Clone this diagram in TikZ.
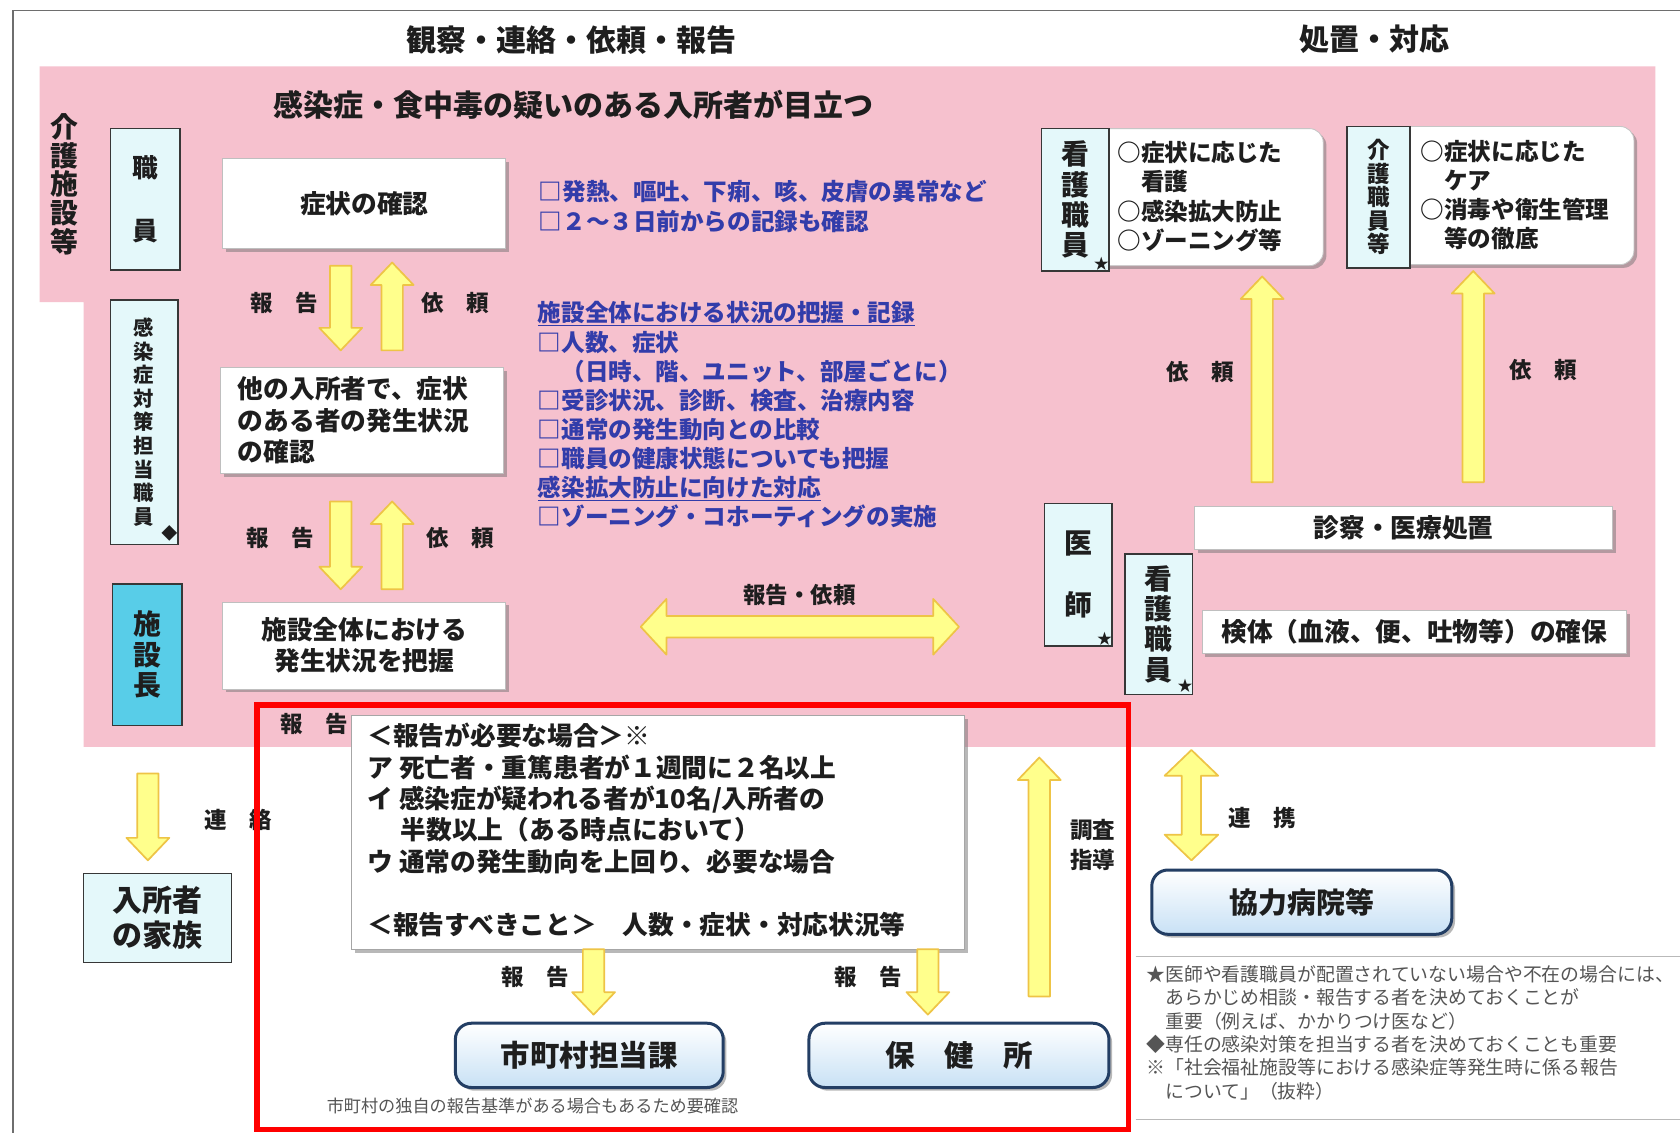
\documentclass[tikz,border=0pt]{standalone}
\usepackage{fontspec}
\setmainfont{Noto Sans CJK JP}
\usetikzlibrary{calc,shadows}
\definecolor{pinkbg}{RGB}{246,193,206}
\definecolor{txt}{RGB}{30,30,30}
\definecolor{tagfill}{RGB}{228,248,250}
\definecolor{tagline}{RGB}{55,55,55}
\definecolor{headfill}{RGB}{88,205,232}
\definecolor{ayellow}{RGB}{255,255,140}
\definecolor{aorange}{RGB}{238,196,70}
\definecolor{orgline}{RGB}{35,62,100}
\definecolor{orgfill}{RGB}{200,225,245}
\definecolor{bluetxt}{RGB}{50,60,170}
\definecolor{framegray}{RGB}{110,110,110}
\definecolor{foottxt}{RGB}{85,85,85}
\newcommand\myfs[2]{\fontsize{#1}{#2}\selectfont}
\def\fasw{10pt}\def\fahw{20pt}\def\fahl{21pt}
\tikzset{
  fa shaft/.code={\def\fasw{#1}},
  fa head/.code={\def\fahw{#1}},
  fa len/.code={\def\fahl{#1}},
  fatarrowstyle/.style={fill=ayellow, draw=aorange, line width=1.6pt, line join=round},
  myshadow/.style={drop shadow={shadow xshift=3pt,shadow yshift=-3pt,opacity=0.5,fill=black!55}},
  whitebox/.style={draw=gray!50, line width=0.8pt, fill=white, myshadow},
  tagbox/.style={draw=tagline, line width=1.4pt, fill=tagfill},
  listbox/.style={draw=gray!45, line width=0.8pt, fill=white, rounded corners=13pt, myshadow},
  orgbox/.style={draw=orgline, line width=2.8pt, rounded corners=15pt, top color=white, bottom color=orgfill, myshadow},
  lbl/.style={font=\bfseries\myfs{21}{22}},
  hdr/.style={font=\bfseries\myfs{28}{30}},
  bluet/.style={text=bluetxt, font=\bfseries\myfs{22}{27.2}, align=left, anchor=north west},
}
\newcommand\fatarrow[3][]{%
  \path[fatarrowstyle,#1] let \p1=#2, \p2=#3,
    \n1={atan2(\y2-\y1,\x2-\x1)}, \n2={veclen(\x2-\x1,\y2-\y1)} in
    [shift={(\p1)},rotate=\n1]
    (0pt,-\fasw) -- ({\n2*1pt-\fahl},-\fasw) -- ({\n2*1pt-\fahl},-\fahw)
    -- ({\n2*1pt},0pt) -- ({\n2*1pt-\fahl},\fahw) -- ({\n2*1pt-\fahl},\fasw)
    -- (0pt,\fasw) -- cycle;}
\newcommand\fatdarrow[3][]{%
  \path[fatarrowstyle,#1] let \p1=#2, \p2=#3,
    \n1={atan2(\y2-\y1,\x2-\x1)}, \n2={veclen(\x2-\x1,\y2-\y1)} in
    [shift={(\p1)},rotate=\n1]
    (0pt,0pt) -- (\fahl,-\fahw) -- (\fahl,-\fasw) -- ({\n2*1pt-\fahl},-\fasw) -- ({\n2*1pt-\fahl},-\fahw)
    -- ({\n2*1pt},0pt) -- ({\n2*1pt-\fahl},\fahw) -- ({\n2*1pt-\fahl},\fasw)
    -- (\fahl,\fasw) -- (\fahl,\fahw) -- cycle;}
\begin{document}
\begin{tikzpicture}[x=1pt,y=-1pt,
  every node/.style={inner sep=0pt,outer sep=0pt,text=txt}]
\useasboundingbox (0,0) rectangle (1568,1057);
\fill[white] (0,0) rectangle (1568,1057);
\draw[framegray,line width=1.2pt] (12,1057) -- (12,10) -- (1568,10);
\fill[pinkbg] (37,62) -- (1545,62) -- (1545,697) -- (78,697) -- (78,282) -- (37,282) -- cycle;

% headers
\node[hdr] (hdrL) at (533,37) {観察・連絡・依頼・報告};
\node[hdr] (hdrR) at (1283,37) {処置・対応};
\node[hdr] (title) at (535,98) {感染症・食中毒の疑いのある入所者が目立つ};
\node[font=\bfseries\myfs{26}{27}, align=center] (facility) at (60,172) {介\\護\\施\\設\\等};

% left column tags
\node[tagbox, minimum width=65pt, minimum height=132pt, font=\bfseries\myfs{24}{58}, align=center] (staff) at (135.5,186) {職\\員};
\node[tagbox, minimum width=63pt, minimum height=228pt, font=\bfseries\myfs{19}{22}, align=center] (taisaku) at (134.5,394) {感\\染\\症\\対\\策\\担\\当\\職\\員};
\node[font=\myfs{15}{15}] (diam) at (158,498) {◆};
\node[draw=tagline, line width=1.6pt, fill=headfill, minimum width=65pt, minimum height=132pt, font=\bfseries\myfs{26}{28.5}, align=center] (head) at (137.5,611) {施\\設\\長};

% main flow boxes
\node[whitebox, minimum width=264pt, minimum height=84pt, font=\bfseries\myfs{24}{29}] (s1) at (340,190) {症状の確認};
\node[whitebox, minimum width=264pt, minimum height=99pt, font=\bfseries\myfs{24}{29.5}, text width=232pt, align=left] (s2) at (338,392.5) {他の入所者で、症状\\のある者の発生状況\\の確認};
\node[whitebox, minimum width=264pt, minimum height=81pt, font=\bfseries\myfs{24}{29}, align=center] (s3) at (340,602.5) {施設全体における\\発生状況を把握};

% blue notes
\node[bluet, font=\bfseries\myfs{22}{28}] (chk1) at (503,168.5) {□発熱、嘔吐、下痢、咳、皮膚の異常など\\□２～３日前からの記録も確認};
\node[bluet] (chk2) at (502,281.5) {\underline{施設全体における状況の把握・記録}\\□人数、症状\\　（日時、階、ユニット、部屋ごとに）\\□受診状況、診断、検査、治療内容\\□通常の発生動向との比較\\□職員の健康状態についても把握\\\underline{感染拡大防止に向けた対応}\\□ゾーニング・コホーティングの実施};

% right top
\node[listbox, minimum width=220pt, minimum height=128pt] (nlist) at (1125,184) {};
\node[tagbox, minimum width=63pt, minimum height=133pt, font=\bfseries\myfs{26}{28.3}, align=center] (nurse1) at (1003.5,186.5) {看\\護\\職\\員};
\node[font=\myfs{14}{14}] (star1) at (1028,246) {★};
\node[font=\bfseries\myfs{22}{27.3}, align=left, anchor=north west] (nltext) at (1043,132) {○症状に応じた\\　看護\\○感染拡大防止\\○ゾーニング等};
\node[listbox, minimum width=225pt, minimum height=129pt] (clist) at (1412.5,182.5) {};
\node[tagbox, minimum width=59pt, minimum height=132pt, font=\bfseries\myfs{21}{22}, align=center] (care) at (1286.5,184) {介\\護\\職\\員\\等};
\node[font=\bfseries\myfs{22}{27}, align=left, anchor=north west] (cltext) at (1326,131) {○症状に応じた\\　ケア\\○消毒や衛生管理\\　等の徹底};

% right bottom
\node[tagbox, minimum width=63pt, minimum height=133pt, font=\bfseries\myfs{26}{58}, align=center] (doctor) at (1006.5,536.5) {医\\師};
\node[font=\myfs{14}{14}] (star2) at (1031,596) {★};
\node[tagbox, minimum width=63pt, minimum height=131pt, font=\bfseries\myfs{26}{28.3}, align=center] (nurse2) at (1081.5,582.5) {看\\護\\職\\員};
\node[font=\myfs{14}{14}] (star3) at (1106,640) {★};
\node[whitebox, minimum width=390pt, minimum height=40pt, font=\bfseries\myfs{24}{26}] (exam) at (1310,493) {診察・医療処置};
\node[whitebox, minimum width=396pt, minimum height=40pt, font=\bfseries\myfs{24}{26}] (sample) at (1320,590) {検体（血液、便、吐物等）の確保};

% bottom boxes
\node[tagbox, line width=1.2pt, minimum width=138pt, minimum height=83pt, font=\bfseries\myfs{28}{32}, align=center] (family) at (147,856.5) {入所者\\の家族};
\node[orgbox, minimum width=280pt, minimum height=60pt, font=\bfseries\myfs{27}{28}] (hosp) at (1215,842) {協力病院等};
\node[orgbox, minimum width=250pt, minimum height=60pt, font=\bfseries\myfs{27.5}{28}] (city) at (550,985) {市町村担当課};
\node[orgbox, minimum width=280pt, minimum height=60pt, font=\bfseries\myfs{27.5}{28}] (hc) at (895,985) {保　健　所};
\node[font=\myfs{16}{17}, text=foottxt] (citynote) at (497,1032) {市町村の独自の報告基準がある場合もあるため要確認};

% arrows
\fatarrow{($(s1.south)+(-22,16)$)}{($(s2.north)+(-20,-16)$)}
\fatarrow{($(s2.north)+(28,-16)$)}{($(s1.south)+(26,13)$)}
\fatarrow{($(s2.south)+(-20,26)$)}{($(s3.north)+(-22,-12)$)}
\fatarrow{($(s3.north)+(26,-12)$)}{($(s2.south)+(28,26)$)}
\fatarrow{($(exam.north)+(-132,-23)$)}{($(nlist.south)+(53,10)$)}
\fatarrow{($(exam.north)+(65,-23)$)}{($(clist.south)+(-37.5,6)$)}
\fatdarrow[fa shaft=10pt, fa head=26pt, fa len=24pt]{($(s3.east)+(126,-17.5)$)}{($(doctor.west)+(-80,48.5)$)}
\fatarrow{($(head.south)+(0.5,45)$)}{($(family.north)+(-9,-12)$)}
\fatdarrow[fa shaft=9pt, fa head=25pt, fa len=24pt]{($(nurse2.south)+(30.5,52)$)}{($(hosp.north)+(-103,-9)$)}
\coordinate (invtip) at (970,707);
\fatarrow{($(hc.north)+(75,-25)$)}{(invtip)}

% labels
\node[lbl] (lb1) at (265,283) {報　告};
\node[lbl] (lb2) at (425,283) {依　頼};
\node[lbl] (lb3) at (262,502) {報　告};
\node[lbl] (lb4) at (430,502) {依　頼};
\node[lbl] (lb5) at (1120,347) {依　頼};
\node[lbl] (lb6) at (1440,345) {依　頼};
\node[lbl] (lb7) at (746,555) {報告・依頼};
\node[lbl] (lb8) at (293,676) {報　告};
\node[lbl] (lb9) at (222,765) {連　絡};
\node[lbl] (lb10) at (500,912) {報　告};
\node[lbl] (lb11) at (810,912) {報　告};
\node[lbl, align=center, font=\bfseries\myfs{21}{28}] (lb12) at (1020,789) {調査\\指導};
\node[lbl] (lb13) at (1178,763) {連　携};

% note box
\node[draw=gray!70, line width=1pt, fill=white, myshadow, minimum width=572pt, minimum height=218pt] (note) at (614,777) {};
\node[font=\bfseries\myfs{24}{29.3}, align=left, anchor=north west] (notetext) at (343,675) {＜報告が必要な場合＞※\\ア 死亡者・重篤患者が１週間に２名以上\\イ 感染症が疑われる者が10名/入所者の\\\hspace*{31pt}半数以上（ある時点において）\\ウ 通常の発生動向を上回り、必要な場合\\[29.3pt]＜報告すべきこと＞　人数・症状・対応状況等};
\fatarrow{($(note.south -| city.north)+(4,0)$)}{($(city.north)+(4,-8)$)}
\fatarrow{($(note.south -| hc.north)+(-29,0)$)}{($(hc.north)+(-29,-8)$)}

% footnote
\draw[gray!55, line width=1pt] (1060,893) -- (1568,893);
\draw[gray!55, line width=1pt] (1060,1045) -- (1568,1045);
\node[font=\myfs{17.6}{21.8}, text=foottxt, align=left, anchor=north west] (foot) at (1070,901) {★医師や看護職員が配置されていない場合や不在の場合には、\\　あらかじめ相談・報告する者を決めておくことが\\　重要（例えば、かかりつけ医など）\\◆専任の感染対策を担当する者を決めておくことも重要\\※「社会福祉施設等における感染症等発生時に係る報告\\　について」（抜粋）};

% red frame
\draw[red, line width=5pt] (240,658) rectangle (1053,1054);
\end{tikzpicture}
\end{document}
